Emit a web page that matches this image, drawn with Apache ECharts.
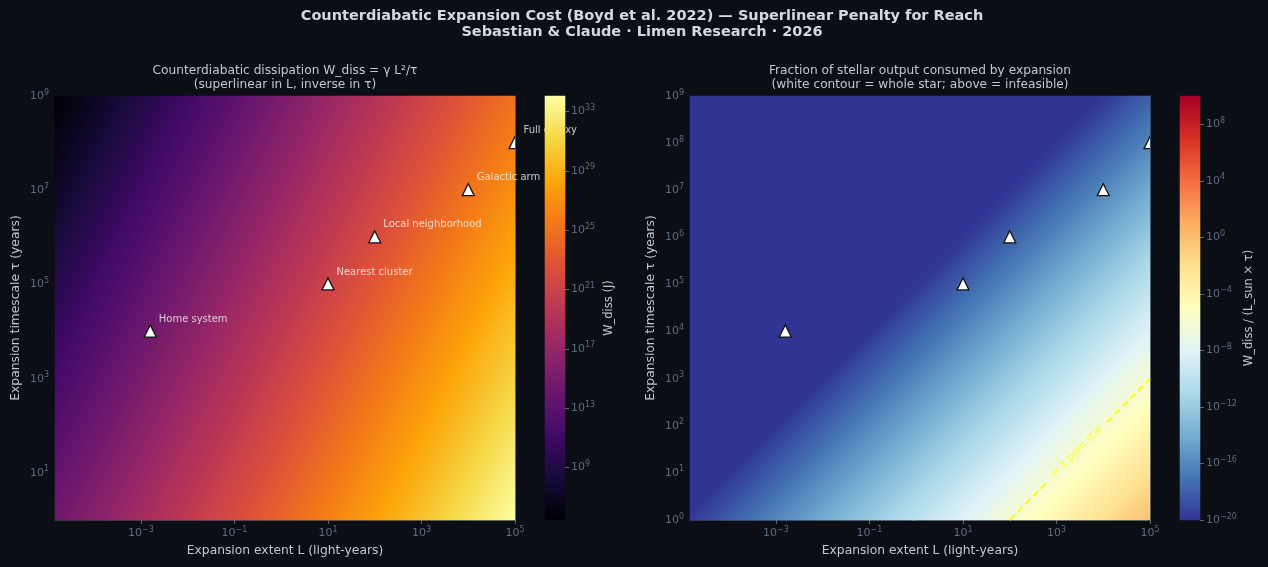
<!DOCTYPE html>
<html>
<head>
<meta charset="utf-8">
<title>Counterdiabatic Expansion Cost</title>
<script src="https://cdn.jsdelivr.net/npm/echarts@6/dist/echarts.min.js"></script>
<style>
  html, body { margin: 0; padding: 0; background: #0b0e14; }
  #chart { width: 1268px; height: 567px; }
</style>
</head>
<body>
<div id="chart"></div>
<script>
// --- data ---
const lExtent = [1.45e-5, 1e5]          // light-years (~1 AU .. 1e5 ly)
const tauExtent = [1, 1e9]              // years
const gammaCoef = 0.4                   // W_diss = gamma * L^2 / tau (SI)
const lyMeters = 9.4607e15
const yearSeconds = 3.15576e7
const lSunWatts = 3.828e26

const targetNames = ['Home system', 'Nearest cluster', 'Local neighborhood', 'Galactic arm', 'Full galaxy']
const targetL = [1.58e-3, 10, 100, 1e4, 1e5]
const targetTau = [1e4, 1e5, 1e6, 1e7, 1e8]

// 1 ppm contour, drawn in two pieces around its inline label
const ppmLowL = [100, 630]
const ppmLowTau = [1, 6.3]
const ppmHighL = [12000, 1e5]
const ppmHighTau = [120, 1000]
const ppmLabelAt = [2800, 29]
const ppmLabel = '\u2248 1 ppm star'

const xTicks = [-3, -1, 1, 3, 5]
const yTicksLeft = [1, 3, 5, 7, 9]
const yTicksRight = [0, 1, 2, 3, 4, 5, 6, 7, 8, 9]
const wTicks = [9, 13, 17, 21, 25, 29, 33]
const fracTicks = [-20, -16, -12, -8, -4, 0, 4, 8]
const wRange = [5.45, 34.05]            // log10 J
const fracRange = [-20, 10]             // log10 fraction

const nL = 115, nTau = 106, nBar = 212

const inferno = ['#000004', '#160b39', '#420a68', '#6a176e', '#932667', '#bc3754',
  '#dd513a', '#f37819', '#fca50a', '#f6d746', '#fcffa4']
const rdylbuR = ['#313695', '#4575b4', '#74add1', '#abd9e9', '#e0f3f8', '#ffffbf',
  '#fee090', '#fdae61', '#f46d43', '#d73027', '#a50026']

const bg = '#0b0e14'
const tickColor = '#5d6b80'
const labelColor = '#c3c8ce'
const spineColor = '#343d4c'
const font = 'DejaVu Sans'

// --- build the grids ---
const logL0 = Math.log10(lExtent[0]), logL1 = Math.log10(lExtent[1])
const logT0 = Math.log10(tauExtent[0]), logT1 = Math.log10(tauExtent[1])
const wCells = [], fCells = []
const colIdx = [], rowIdx = [], barIdx = []
for (let i = 0; i < nL; i++) colIdx.push(i)
for (let j = 0; j < nTau; j++) rowIdx.push(j)
for (let i = 0; i < nL; i++) {
  const lg = logL0 + (i + 0.5) * (logL1 - logL0) / nL
  for (let j = 0; j < nTau; j++) {
    const tg = logT0 + (j + 0.5) * (logT1 - logT0) / nTau
    const tauS = tg + Math.log10(yearSeconds)
    const logW = Math.log10(gammaCoef) + 2 * (lg + Math.log10(lyMeters)) - tauS
    const logF = logW - Math.log10(lSunWatts) - tauS
    wCells.push([i, j, logW])
    fCells.push([i, j, Math.min(Math.max(logF, fracRange[0]), fracRange[1])])
  }
}
const wBar = [], fBar = []
for (let k = 0; k < nBar; k++) {
  barIdx.push(k)
  wBar.push([0, k, wRange[0] + (k + 0.5) * (wRange[1] - wRange[0]) / nBar])
  fBar.push([0, k, fracRange[0] + (k + 0.5) * (fracRange[1] - fracRange[0]) / nBar])
}
const targets = targetL.map((l, i) => [Math.log10(l), Math.log10(targetTau[i]), targetNames[i]])

function powLabel(v) {
  const e = Math.round(v)
  return '{b|10}{s|' + (e < 0 ? '\u2212' + (-e) : e) + '}'
}
const tickRich = {
  b: { fontSize: 11, color: tickColor, fontFamily: font, lineHeight: 15 },
  s: { fontSize: 8, color: tickColor, fontFamily: font, lineHeight: 9, verticalAlign: 'top' }
}

function valueAxis(grid, pos, min, max, ticks, name, gap) {
  return {
    type: 'value', gridIndex: grid, position: pos, min: min, max: max,
    name: name, nameLocation: 'middle', nameGap: gap,
    nameTextStyle: { color: labelColor, fontSize: 12.3, fontFamily: font },
    axisLine: { show: true, lineStyle: { color: spineColor, width: 1 } },
    axisTick: { show: true, length: 4, customValues: ticks, lineStyle: { color: tickColor } },
    axisLabel: { customValues: ticks, formatter: powLabel, rich: tickRich, margin: 6 },
    splitLine: { show: false }
  }
}
function frameAxis(grid, pos, data) {
  return {
    type: 'category', gridIndex: grid, position: pos, data: data,
    axisLine: { show: true, lineStyle: { color: spineColor, width: 1 } },
    axisTick: { show: false }, axisLabel: { show: false }, splitLine: { show: false }
  }
}
function hiddenCat(grid, pos, data) {
  return { type: 'category', gridIndex: grid, position: pos, data: data, show: false }
}
function cbAxis(grid, min, max, ticks, name, gap) {
  return {
    type: 'value', gridIndex: grid, position: 'right', min: min, max: max,
    name: name, nameLocation: 'middle', nameGap: gap, nameRotate: 90,
    nameTextStyle: { color: labelColor, fontSize: 11.5, fontFamily: font },
    axisLine: { show: false },
    axisTick: { show: true, length: 4, customValues: ticks, lineStyle: { color: tickColor } },
    axisLabel: { customValues: ticks, formatter: powLabel, rich: tickRich, margin: 6 },
    splitLine: { show: false }
  }
}
// white "^" markers, clipped to the plot like the original
function triangleItem(params, api) {
  const p = api.coord([api.value(0), api.value(1)])
  return {
    type: 'polygon',
    shape: { points: [[p[0], p[1] - 6.5], [p[0] - 6, p[1] + 5.5], [p[0] + 6, p[1] + 5.5]] },
    style: { fill: '#ffffff', stroke: '#111111', lineWidth: 1.3 }
  }
}

const chart = echarts.init(document.getElementById('chart'))
chart.setOption({
  backgroundColor: bg,
  animation: false,
  textStyle: { fontFamily: font },
  graphic: [
    { type: 'text', x: 642, y: 16, style: { text: 'Counterdiabatic Expansion Cost (Boyd et al. 2022) \u2014 Superlinear Penalty for Reach', fill: '#d5d9df', font: 'bold 14.5px "DejaVu Sans"', textAlign: 'center', textVerticalAlign: 'middle' } },
    { type: 'text', x: 642, y: 32, style: { text: 'Sebastian & Claude \u00b7 Limen Research \u00b7 2026', fill: '#d5d9df', font: 'bold 14.5px "DejaVu Sans"', textAlign: 'center', textVerticalAlign: 'middle' } },
    { type: 'text', x: 285, y: 71, style: { text: 'Counterdiabatic dissipation W_diss = \u03b3 L\u00b2/\u03c4', fill: labelColor, font: '12.2px "DejaVu Sans"', textAlign: 'center', textVerticalAlign: 'middle' } },
    { type: 'text', x: 285, y: 85, style: { text: '(superlinear in L, inverse in \u03c4)', fill: labelColor, font: '12.2px "DejaVu Sans"', textAlign: 'center', textVerticalAlign: 'middle' } },
    { type: 'text', x: 920, y: 71, style: { text: 'Fraction of stellar output consumed by expansion', fill: labelColor, font: '12.2px "DejaVu Sans"', textAlign: 'center', textVerticalAlign: 'middle' } },
    { type: 'text', x: 920, y: 85, style: { text: '(white contour = whole star; above = infeasible)', fill: labelColor, font: '12.2px "DejaVu Sans"', textAlign: 'center', textVerticalAlign: 'middle' } }
  ],
  grid: [
    { left: 55, top: 96, width: 460, height: 424 },
    { left: 545, top: 96, width: 20, height: 424 },
    { left: 690, top: 96, width: 460, height: 424 },
    { left: 1180, top: 96, width: 20, height: 424 }
  ],
  xAxis: [
    valueAxis(0, 'bottom', logL0, logL1, xTicks, 'Expansion extent L (light-years)', 25),
    frameAxis(0, 'top', colIdx),
    hiddenCat(1, 'bottom', ['c']),
    valueAxis(2, 'bottom', logL0, logL1, xTicks, 'Expansion extent L (light-years)', 25),
    frameAxis(2, 'top', colIdx),
    hiddenCat(3, 'bottom', ['c'])
  ],
  yAxis: [
    valueAxis(0, 'left', logT0, logT1, yTicksLeft, 'Expansion timescale \u03c4 (years)', 33),
    frameAxis(0, 'right', rowIdx),
    hiddenCat(1, 'left', barIdx),
    cbAxis(1, wRange[0], wRange[1], wTicks, 'W_diss (J)', 38),
    valueAxis(2, 'left', logT0, logT1, yTicksRight, 'Expansion timescale \u03c4 (years)', 33),
    frameAxis(2, 'right', rowIdx),
    hiddenCat(3, 'left', barIdx),
    cbAxis(3, fracRange[0], fracRange[1], fracTicks, 'W_diss / (L_sun \u00d7 \u03c4)', 43)
  ],
  visualMap: [
    { type: 'continuous', show: false, seriesIndex: [0, 3], dimension: 2, min: wRange[0], max: wRange[1], inRange: { color: inferno } },
    { type: 'continuous', show: false, seriesIndex: [4, 9], dimension: 2, min: fracRange[0], max: fracRange[1], inRange: { color: rdylbuR } }
  ],
  series: [
    // 0: dissipation field
    { type: 'heatmap', xAxisIndex: 1, yAxisIndex: 1, data: wCells, progressive: 0, z: 1, emphasis: { disabled: true } },
    // 1: markers
    { type: 'custom', xAxisIndex: 0, yAxisIndex: 0, data: targets, renderItem: triangleItem, clip: true, z: 3, silent: true },
    // 2: marker names
    { type: 'scatter', xAxisIndex: 0, yAxisIndex: 0, data: targets, symbolSize: 1, clip: false, z: 4,
      itemStyle: { color: 'rgba(0,0,0,0)' }, silent: true,
      label: { show: true, position: [9, -12], align: 'left', verticalAlign: 'middle', color: '#f2f2f2', fontSize: 10, fontFamily: font,
        formatter: p => p.data[2] } },
    // 3: colorbar
    { type: 'heatmap', xAxisIndex: 2, yAxisIndex: 2, data: wBar, progressive: 0, z: 8, emphasis: { disabled: true } },
    // 4: fraction field
    { type: 'heatmap', xAxisIndex: 4, yAxisIndex: 5, data: fCells, progressive: 0, z: 1, emphasis: { disabled: true } },
    // 5-6: 1 ppm contour
    { type: 'line', xAxisIndex: 3, yAxisIndex: 4, z: 3, symbol: 'none', silent: true,
      data: ppmLowL.map((l, i) => [Math.log10(l), Math.log10(ppmLowTau[i])]),
      lineStyle: { color: '#ffff00', width: 1.8, type: [7, 4] } },
    { type: 'line', xAxisIndex: 3, yAxisIndex: 4, z: 3, symbol: 'none', silent: true,
      data: ppmHighL.map((l, i) => [Math.log10(l), Math.log10(ppmHighTau[i])]),
      lineStyle: { color: '#ffff00', width: 1.8, type: [7, 4] } },
    // 7: contour label
    { type: 'scatter', xAxisIndex: 3, yAxisIndex: 4, z: 4, symbolSize: 1, silent: true,
      itemStyle: { color: 'rgba(0,0,0,0)' },
      data: [[Math.log10(ppmLabelAt[0]), Math.log10(ppmLabelAt[1])]],
      label: { show: true, position: 'inside', rotate: 45, color: '#ffff00', fontSize: 10.5, fontFamily: font, formatter: ppmLabel } },
    // 8: markers on the fraction map
    { type: 'custom', xAxisIndex: 3, yAxisIndex: 4, data: targets, renderItem: triangleItem, clip: true, z: 3, silent: true },
    // 9: colorbar
    { type: 'heatmap', xAxisIndex: 5, yAxisIndex: 6, data: fBar, progressive: 0, z: 8, emphasis: { disabled: true } }
  ]
})
</script>
</body>
</html>
